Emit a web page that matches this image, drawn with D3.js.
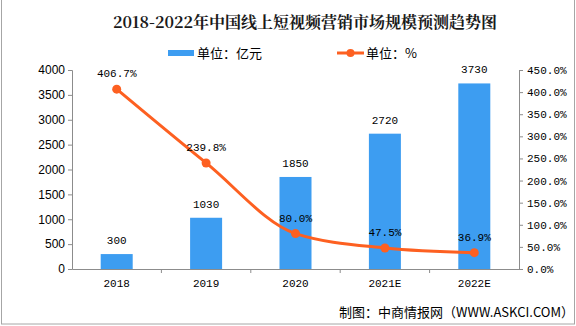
<!DOCTYPE html>
<html>
<head>
<meta charset="utf-8">
<script src="https://cdn.jsdelivr.net/npm/d3@7"></script>
<style>
  html, body { margin: 0; padding: 0; background: #fff; }
  svg { display: block; }
</style>
</head>
<body>
<svg id="chart" width="576" height="326"></svg>
<script>
// Market size (亿元) and growth rate (%) by year
const categories = ["2018", "2019", "2020", "2021E", "2022E"];
const marketSize = [300, 1030, 1850, 2720, 3730];
const growthRate = [406.7, 239.8, 80.0, 47.5, 36.9];
const leftTicks = [0, 500, 1000, 1500, 2000, 2500, 3000, 3500, 4000];
const rightTicks = [0, 50, 100, 150, 200, 250, 300, 350, 400, 450];

const W = 576, H = 326;
const plot = { left: 72, right: 519, top: 70, bottom: 269 };
const monoFont = "'Liberation Mono', 'DejaVu Sans Mono', monospace";
const cjkFont = "'Noto Sans CJK SC', sans-serif";
const barColor = "#3d9df1";
const lineColor = "#fd6021";
const axisColor = "#8c8c8c";

const svg = d3.select("#chart");

// frame
svg.append("rect")
  .attr("x", 1.5).attr("y", -2).attr("width", 573).attr("height", 326)
  .attr("fill", "none").attr("stroke", "#a6a6a6").attr("stroke-width", 1);

// title
svg.append("text")
  .attr("x", 305).attr("y", 28)
  .attr("text-anchor", "middle")
  .attr("font-family", "'Noto Serif CJK SC', " + cjkFont)
  .attr("font-weight", "bold")
  .attr("font-size", 16)
  .attr("fill", "#1a1a1a")
  .text("2018-2022年中国线上短视频营销市场规模预测趋势图");

// scales
const x = d3.scaleBand().domain(categories).range([plot.left, plot.right]);
const yL = d3.scaleLinear().domain([0, 4000]).range([plot.bottom, plot.top]);
const yR = d3.scaleLinear().domain([0, 450]).range([plot.bottom, plot.top]);
const barW = 32;

// bars
svg.append("g").selectAll("rect")
  .data(categories)
  .join("rect")
  .attr("x", (d) => x(d) + x.bandwidth() / 2 - barW / 2)
  .attr("y", (d, i) => yL(marketSize[i]))
  .attr("width", barW)
  .attr("height", (d, i) => plot.bottom - yL(marketSize[i]))
  .attr("fill", barColor);

// bar value labels
svg.append("g").selectAll("text")
  .data(categories)
  .join("text")
  .attr("x", (d) => x(d) + x.bandwidth() / 2)
  .attr("y", (d, i) => yL(marketSize[i]) - 10)
  .attr("text-anchor", "middle")
  .attr("font-family", monoFont)
  .attr("font-size", 11)
  .attr("fill", "#000")
  .text((d, i) => marketSize[i]);

// left axis
const axL = svg.append("g")
  .attr("transform", `translate(${plot.left},0)`)
  .call(d3.axisLeft(yL).tickValues(leftTicks).tickSize(4).tickPadding(3)
    .tickFormat(d3.format("d")));
axL.select(".domain").attr("stroke", axisColor);
axL.selectAll(".tick line").attr("stroke", axisColor);
axL.selectAll(".tick text")
  .attr("font-family", "'Liberation Sans', Arial, sans-serif")
  .attr("font-size", 12).attr("fill", "#000");

// right axis
const axR = svg.append("g")
  .attr("transform", `translate(${plot.right},0)`)
  .call(d3.axisRight(yR).tickValues(rightTicks).tickSize(4).tickPadding(4)
    .tickFormat((d) => d.toFixed(1) + "%"));
axR.select(".domain").attr("stroke", axisColor);
axR.selectAll(".tick line").attr("stroke", axisColor);
axR.selectAll(".tick text")
  .attr("font-family", monoFont)
  .attr("font-size", 11).attr("fill", "#000");

// bottom axis: baseline with ticks at category boundaries
const axB = svg.append("g")
  .attr("transform", `translate(0,${plot.bottom})`)
  .call(d3.axisBottom(x).tickSize(0).tickPadding(10));
axB.select(".domain").attr("stroke", axisColor);
axB.selectAll(".tick text")
  .attr("font-family", monoFont)
  .attr("font-size", 11).attr("fill", "#000");
svg.append("g").selectAll("line")
  .data(categories.slice(1))
  .join("line")
  .attr("x1", (d) => x(d)).attr("x2", (d) => x(d))
  .attr("y1", plot.bottom).attr("y2", plot.bottom + 4)
  .attr("stroke", axisColor);

// growth line
const pts = categories.map((d, i) => [x(d) + x.bandwidth() / 2, yR(growthRate[i])]);
svg.append("path")
  .datum(pts)
  .attr("d", d3.line().curve(d3.curveMonotoneX))
  .attr("fill", "none")
  .attr("stroke", lineColor)
  .attr("stroke-width", 3);
svg.append("g").selectAll("circle")
  .data(pts)
  .join("circle")
  .attr("cx", (d) => d[0]).attr("cy", (d) => d[1])
  .attr("r", 4.5)
  .attr("fill", lineColor);

// growth labels
svg.append("g").selectAll("text")
  .data(categories)
  .join("text")
  .attr("x", (d) => x(d) + x.bandwidth() / 2)
  .attr("y", (d, i) => yR(growthRate[i]) - 12)
  .attr("text-anchor", "middle")
  .attr("font-family", monoFont)
  .attr("font-size", 11)
  .attr("fill", "#000")
  .text((d, i) => growthRate[i].toFixed(1) + "%");

// legend
const lg = svg.append("g").attr("font-family", cjkFont).attr("font-size", 13).attr("fill", "#000");
lg.append("rect").attr("x", 168).attr("y", 50).attr("width", 26).attr("height", 6).attr("fill", barColor);
lg.append("text").attr("x", 197).attr("y", 57.5).text("单位：亿元");
lg.append("line").attr("x1", 337).attr("x2", 364).attr("y1", 53).attr("y2", 53)
  .attr("stroke", lineColor).attr("stroke-width", 3);
lg.append("circle").attr("cx", 350.5).attr("cy", 53).attr("r", 4).attr("fill", lineColor);
lg.append("text").attr("x", 366).attr("y", 57.5).text("单位：%");

// source note
svg.append("text")
  .attr("x", 574).attr("y", 317)
  .attr("text-anchor", "end")
  .attr("font-family", cjkFont)
  .attr("font-size", 13)
  .attr("fill", "#000")
  .text("制图：中商情报网（WWW.ASKCI.COM）");
</script>
</body>
</html>
